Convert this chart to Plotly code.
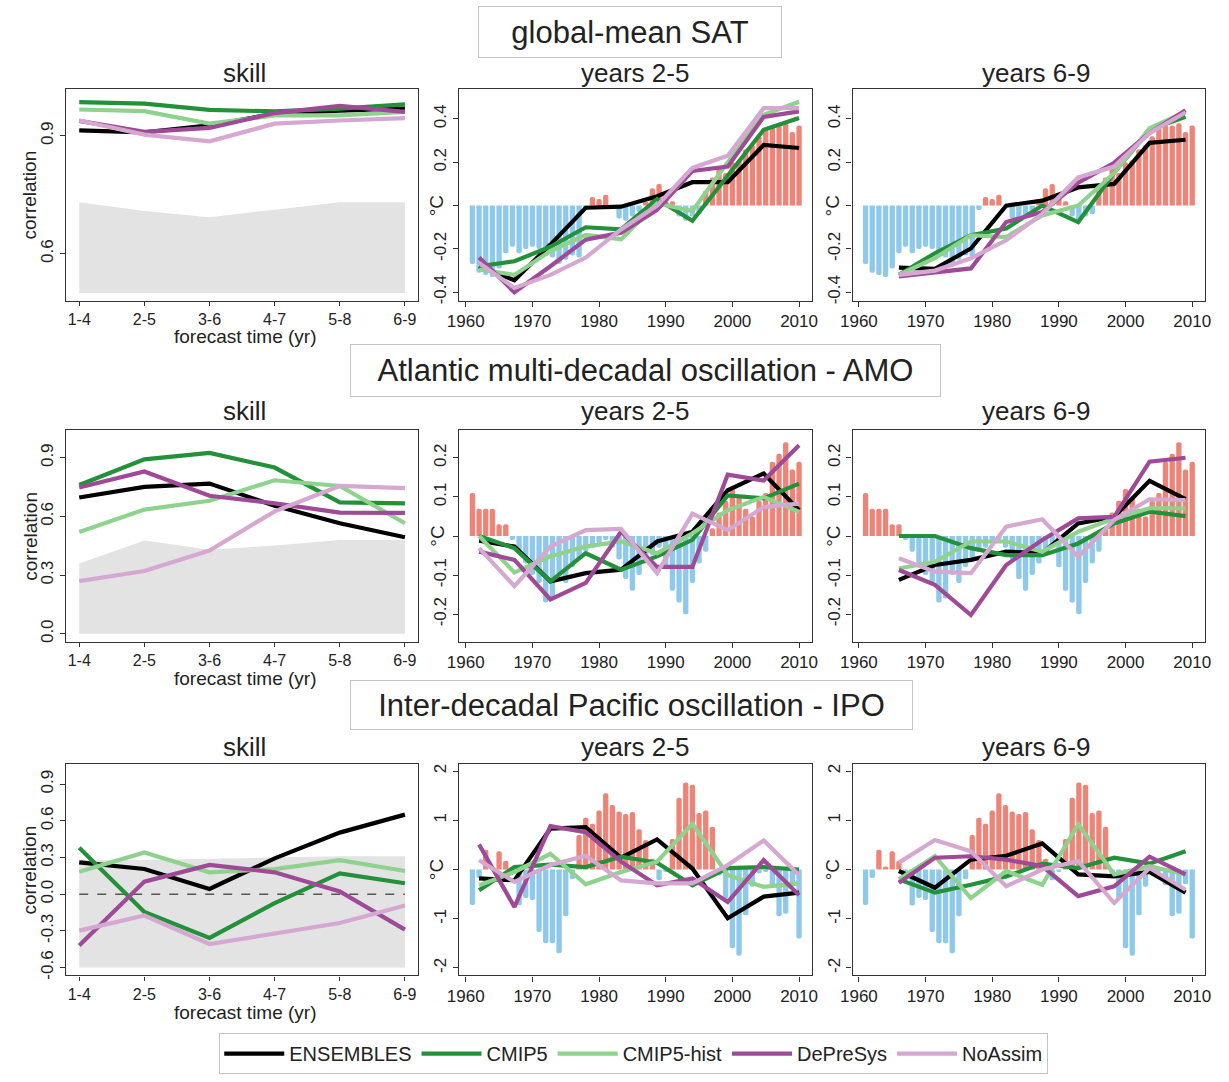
import plotly.graph_objects as go

W, H = 1229, 1082
FONT = "Liberation Sans, Arial, Helvetica, sans-serif"

MODELS = ["ENSEMBLES", "CMIP5", "CMIP5-hist", "DePreSys", "NoAssim"]
COLORS = {"ENSEMBLES": "#000000", "CMIP5": "#23903A", "CMIP5-hist": "#8ED28E",
          "DePreSys": "#9E4A96", "NoAssim": "#D5A8D1"}
LEADS = ["1-4", "2-5", "3-6", "4-7", "5-8", "6-9"]
YEARS = list(range(1961, 2011))
X25 = [1962, 1967.3, 1972.7, 1978, 1983.3, 1988.7, 1994, 1999.3, 2004.7, 2010]
X69 = [1966, 1971.4, 1976.8, 1982.1, 1987.5, 1992.9, 1998.3, 2003.6, 2009]

# ---------------- global-mean SAT ----------------
SAT_BAND = [0.731, 0.709, 0.693, 0.712, 0.731, 0.731]
SAT_BAND_LOW = [0.50, 0.50, 0.50, 0.50, 0.50, 0.50]
SAT_SKILL = {
    "ENSEMBLES": [0.914, 0.909, 0.927, 0.956, 0.964, 0.969],
    "CMIP5": [0.986, 0.982, 0.966, 0.962, 0.969, 0.980],
    "CMIP5-hist": [0.967, 0.963, 0.931, 0.952, 0.952, 0.961],
    "DePreSys": [0.938, 0.910, 0.920, 0.958, 0.976, 0.961],
    "NoAssim": [0.939, 0.903, 0.886, 0.931, 0.939, 0.945],
}
SAT_OBS = [-0.27, -0.31, -0.32, -0.33, -0.29, -0.22, -0.19, -0.22, -0.20, -0.19,
           -0.20, -0.23, -0.24, -0.27, -0.25, -0.23, -0.24, -0.02, 0.04, 0.03,
           0.05, -0.01, -0.06, -0.07, -0.05, -0.03, 0.02, 0.08, 0.10, 0.04,
           0.02, -0.05, -0.07, -0.05, -0.04, 0.07, 0.13, 0.18, 0.15, 0.20,
           0.21, 0.26, 0.28, 0.32, 0.36, 0.37, 0.37, 0.38, 0.34, 0.37]
SAT_Y25 = {
    "ENSEMBLES": [-0.28, -0.345, -0.18, -0.01, -0.005, 0.043, 0.108, 0.108, 0.28, 0.266],
    "CMIP5": [-0.28, -0.257, -0.19, -0.10, -0.11, 0.03, -0.07, 0.14, 0.35, 0.405],
    "CMIP5-hist": [-0.295, -0.32, -0.21, -0.135, -0.155, 0.01, -0.025, 0.20, 0.42, 0.48],
    "DePreSys": [-0.24, -0.40, -0.28, -0.157, -0.125, -0.02, 0.16, 0.18, 0.41, 0.435],
    "NoAssim": [-0.265, -0.38, -0.32, -0.24, -0.11, 0.0, 0.174, 0.23, 0.45, 0.45],
}
SAT_Y69 = {
    "ENSEMBLES": [-0.286, -0.292, -0.198, 0.0, 0.023, 0.084, 0.10, 0.29, 0.304],
    "CMIP5": [-0.32, -0.22, -0.137, -0.106, 0.0, -0.076, 0.152, 0.35, 0.41],
    "CMIP5-hist": [-0.32, -0.243, -0.137, -0.145, -0.046, 0.0, 0.15, 0.357, 0.433],
    "DePreSys": [-0.327, -0.31, -0.29, -0.076, -0.03, 0.106, 0.198, 0.335, 0.44],
    "NoAssim": [-0.32, -0.30, -0.243, -0.16, -0.038, 0.13, 0.18, 0.335, 0.43],
}

# ---------------- AMO ----------------
AMO_BAND = [0.359, 0.477, 0.43, 0.452, 0.48, 0.48]
AMO_BAND_LOW = [0.0, 0.0, 0.0, 0.0, 0.0, 0.0]
AMO_SKILL = {
    "ENSEMBLES": [0.697, 0.751, 0.768, 0.655, 0.565, 0.494],
    "CMIP5": [0.761, 0.892, 0.925, 0.85, 0.672, 0.667],
    "CMIP5-hist": [0.52, 0.635, 0.68, 0.785, 0.756, 0.565],
    "DePreSys": [0.748, 0.83, 0.706, 0.667, 0.62, 0.618],
    "NoAssim": [0.269, 0.321, 0.426, 0.626, 0.756, 0.745],
}
AMO_OBS = [0.11, 0.07, 0.07, 0.07, 0.03, 0.03, -0.01, -0.04, -0.07, -0.10,
           -0.12, -0.17, -0.16, -0.10, -0.12, -0.08, -0.06, -0.04, -0.03, -0.02,
           -0.01, -0.03, -0.06, -0.11, -0.14, -0.10, -0.07, -0.05, -0.03, -0.08,
           -0.14, -0.17, -0.20, -0.12, -0.07, -0.04, 0.02, 0.06, 0.09, 0.12,
           0.10, 0.07, 0.05, 0.09, 0.11, 0.19, 0.21, 0.24, 0.17, 0.19]
AMO_Y25 = {
    "ENSEMBLES": [-0.012, -0.027, -0.116, -0.095, -0.086, -0.014, 0.011, 0.117, 0.16, 0.066],
    "CMIP5": [0.0, -0.031, -0.116, -0.044, -0.086, -0.052, -0.01, 0.104, 0.096, 0.134],
    "CMIP5-hist": [0.0, -0.093, -0.052, -0.027, -0.014, -0.044, 0.007, 0.066, 0.10, 0.062],
    "DePreSys": [-0.04, -0.061, -0.162, -0.12, 0.011, -0.079, -0.079, 0.157, 0.142, 0.232],
    "NoAssim": [-0.031, -0.128, -0.027, 0.015, 0.018, -0.095, 0.057, 0.015, 0.074, 0.083],
}
AMO_Y69 = {
    "ENSEMBLES": [-0.112, -0.074, -0.061, -0.04, -0.044, 0.032, 0.049, 0.141, 0.094],
    "CMIP5": [0.0, 0.0, -0.031, -0.049, -0.049, -0.019, 0.032, 0.062, 0.051],
    "CMIP5-hist": [-0.083, -0.066, -0.014, -0.014, -0.04, 0.011, 0.045, 0.071, 0.071],
    "DePreSys": [-0.087, -0.125, -0.202, -0.074, -0.01, 0.045, 0.049, 0.19, 0.20],
    "NoAssim": [-0.057, -0.091, -0.095, 0.024, 0.043, -0.053, 0.041, 0.094, 0.092],
}

# ---------------- IPO ----------------
IPO_BAND = [0.28, 0.28, 0.29, 0.30, 0.31, 0.31]
IPO_BAND_LOW = [-0.6, -0.6, -0.6, -0.6, -0.6, -0.6]
IPO_SKILL = {
    "ENSEMBLES": [0.26, 0.206, 0.043, 0.293, 0.504, 0.651],
    "CMIP5": [0.38, -0.146, -0.358, -0.073, 0.171, 0.09],
    "CMIP5-hist": [0.184, 0.342, 0.179, 0.206, 0.279, 0.19],
    "DePreSys": [-0.42, 0.103, 0.239, 0.179, 0.022, -0.29],
    "NoAssim": [-0.298, -0.174, -0.407, -0.325, -0.236, -0.092],
}
IPO_OBS = [-0.72, -0.17, 0.40, 0.06, 0.37, 0.18, -0.05, -0.73, -0.58, -0.62,
           -1.27, -1.50, -1.50, -1.70, -0.95, -0.20, 0.70, 1.05, 0.93, 1.20,
           1.55, 1.31, 1.18, 1.13, 1.17, 0.82, 0.60, 0.22, -0.22, -0.05,
           0.62, 1.46, 1.77, 1.72, 1.15, 1.20, 0.87, -0.12, -0.60, -1.60,
           -1.75, -0.93, -0.35, -0.08, -0.05, -0.32, -0.95, -0.90, -0.30, -1.40]
IPO_Y25 = {
    "ENSEMBLES": [-0.18, -0.22, 0.83, 0.86, 0.24, 0.61, 0.02, -0.99, -0.55, -0.47],
    "CMIP5": [-0.42, 0.05, 0.10, 0.05, 0.26, 0.14, -0.32, 0.03, 0.05, 0.0],
    "CMIP5-hist": [-0.32, -0.05, 0.32, -0.30, -0.05, 0.16, 0.93, -0.11, -0.35, -0.28],
    "DePreSys": [0.51, -0.76, 0.88, 0.76, 0.16, -0.32, -0.18, -0.66, 0.19, -0.52],
    "NoAssim": [0.19, -0.25, 0.09, 0.28, -0.22, -0.28, -0.28, 0.09, 0.59, -0.11],
}
IPO_Y69 = {
    "ENSEMBLES": [-0.03, -0.37, 0.20, 0.28, 0.53, -0.10, -0.14, -0.05, -0.47],
    "CMIP5": [-0.20, -0.47, -0.31, -0.14, 0.12, 0.03, 0.24, 0.12, 0.37],
    "CMIP5-hist": [-0.20, 0.27, -0.58, -0.03, -0.31, 0.92, -0.10, 0.07, -0.10],
    "DePreSys": [-0.27, 0.24, 0.27, 0.20, 0.07, -0.54, -0.34, 0.26, -0.10],
    "NoAssim": [0.14, 0.60, 0.37, -0.34, 0.0, 0.17, -0.68, 0.03, -0.41],
}

SECTION_TITLES = ["global-mean SAT", "Atlantic multi-decadal oscillation - AMO",
                  "Inter-decadal Pacific oscillation - IPO"]
PANEL_TITLES = ["skill", "years 2-5", "years 6-9"]

SKILL_TICKS = [[0.6, 0.9], [0.0, 0.3, 0.6, 0.9], [-0.6, -0.3, 0.0, 0.3, 0.6, 0.9]]
SKILL_RANGES = [[0.48, 1.02], [-0.04, 1.04], [-0.664, 1.064]]
TS_TICKS = [[-0.4, -0.2, 0, 0.2, 0.4], [-0.2, -0.1, 0, 0.1, 0.2], [-2, -1, 0, 1, 2]]
TS_RANGES = [[-0.44, 0.54], [-0.27, 0.27], [-2.15, 2.14]]
YEAR_TICKS = [1960, 1970, 1980, 1990, 2000, 2010]

# ---------------- layout geometry (pixels) ----------------
COLS = [(55, 412), (454, 812), (853, 1211)]
ROWS = [(89, 302), (432, 644), (767, 979)]
SECTION_BOX = [(627, 32, 302, 50), (643, 372, 589, 51), (629, 708, 561, 48)]
PANEL_TITLE_Y = [73, 413, 750]
PANEL_TITLE_X = [236, 632, 1039]
XTITLE_Y = [338, 681, 1016]
DEGC_X = [None, 431, 833]

RED, BLUE, BAND = "#EE8478", "#8EC8EA", "#E3E3E3"
AX_COL = "#333333"
TXT = "#222222"


def fx(p):
    return p / W


def fy(p):
    return 1 - p / H


def note(text, x, y, size, angle=0, xref="paper", yref="paper", **kw):
    d = dict(text=text, xref=xref, yref=yref, x=x, y=y, xanchor="center",
             yanchor="middle", showarrow=False, textangle=angle,
             font=dict(size=size, color=TXT, family=FONT))
    d.update(kw)
    return d


fig = go.Figure()
layout = dict(width=W, height=H, margin=dict(l=0, r=0, t=0, b=0),
              paper_bgcolor="white", plot_bgcolor="white",
              font=dict(family=FONT, color=TXT), showlegend=True)
annotations = []

skill_sets = [(SAT_SKILL, SAT_BAND, SAT_BAND_LOW), (AMO_SKILL, AMO_BAND, AMO_BAND_LOW),
              (IPO_SKILL, IPO_BAND, IPO_BAND_LOW)]
ts_sets = [(SAT_OBS, SAT_Y25, SAT_Y69), (AMO_OBS, AMO_Y25, AMO_Y69),
           (IPO_OBS, IPO_Y25, IPO_Y69)]

for r in range(3):
    for c in range(3):
        idx = r * 3 + c + 1
        xa = "xaxis" if idx == 1 else f"xaxis{idx}"
        ya = "yaxis" if idx == 1 else f"yaxis{idx}"
        xr = "x" if idx == 1 else f"x{idx}"
        yr = "y" if idx == 1 else f"y{idx}"
        common = dict(showline=True, mirror=True, linecolor=AX_COL, linewidth=1.3,
                      ticks="outside", ticklen=5, tickwidth=1.2, tickcolor=AX_COL,
                      showgrid=False, zeroline=False,
                      tickfont=dict(size=17, color=TXT, family=FONT))
        xdom = [fx(COLS[c][0]), fx(COLS[c][1])]
        ydom = [fy(ROWS[r][1]), fy(ROWS[r][0])]
        if c == 0:
            skill, band, low = skill_sets[r]
            xcommon = dict(common, ticklen=4, tickfont=dict(size=16, color=TXT, family=FONT))
            layout[xa] = dict(domain=xdom, anchor=yr, type="category",
                              range=[-0.2, 5.2], tickvals=LEADS, ticktext=LEADS, **xcommon)
            layout[ya] = dict(domain=ydom, anchor=xr, range=SKILL_RANGES[r],
                              tickvals=SKILL_TICKS[r],
                              ticktext=[f"{v:.1f}" for v in SKILL_TICKS[r]],
                              tickangle=-90, **common)
            fig.add_trace(go.Scatter(x=LEADS + LEADS[::-1], y=band + low[::-1],
                                     fill="toself", fillcolor=BAND, mode="none",
                                     hoverinfo="skip", showlegend=False,
                                     xaxis=xr, yaxis=yr))
            if r == 2:
                fig.add_trace(go.Scatter(x=[LEADS[0], LEADS[-1]], y=[0, 0], mode="lines",
                                         line=dict(color="#555555", width=1.6, dash="dash"),
                                         showlegend=False, hoverinfo="skip",
                                         xaxis=xr, yaxis=yr))
            for m in MODELS:
                fig.add_trace(go.Scatter(x=LEADS, y=skill[m], mode="lines", name=m,
                                         line=dict(color=COLORS[m], width=4.2),
                                         showlegend=(idx == 1), legendgroup=m,
                                         xaxis=xr, yaxis=yr))
            annotations.append(note("correlation", fx(18),
                                    fy((ROWS[r][0] + ROWS[r][1]) / 2), 19, angle=-90))
            annotations.append(note("forecast time (yr)",
                                    fx((COLS[0][0] + COLS[0][1]) / 2 + 3),
                                    fy(XTITLE_Y[r]), 19))
        else:
            obs, y25, y69 = ts_sets[r]
            xs = X25 if c == 1 else X69
            ys = y25 if c == 1 else y69
            layout[xa] = dict(domain=xdom, anchor=yr, range=[1959.04, 2011.96],
                              tickvals=YEAR_TICKS, **common)
            layout[ya] = dict(domain=ydom, anchor=xr, range=TS_RANGES[r],
                              tickvals=TS_TICKS[r],
                              ticktext=["" if v == 0 else f"{v:g}" for v in TS_TICKS[r]],
                              tickangle=-90, **common)
            fig.add_trace(go.Bar(x=YEARS, y=obs, width=0.8,
                                 marker=dict(color=[RED if v > 0 else BLUE for v in obs],
                                             line=dict(width=0), cornerradius=3),
                                 showlegend=False, hoverinfo="skip",
                                 xaxis=xr, yaxis=yr))
            for m in MODELS:
                fig.add_trace(go.Scatter(x=xs, y=ys[m], mode="lines", name=m,
                                         line=dict(color=COLORS[m], width=4.2),
                                         showlegend=False, legendgroup=m,
                                         xaxis=xr, yaxis=yr))
            annotations.append(note("°C", fx(DEGC_X[c]), 0, 19, angle=-90, yref=yr))
        annotations.append(note(PANEL_TITLES[c], fx(PANEL_TITLE_X[c]),
                                fy(PANEL_TITLE_Y[r]), 26))

for r in range(3):
    cx, cy, bw, bh = SECTION_BOX[r]
    annotations.append(note(SECTION_TITLES[r], fx(cx), fy(cy), 31, width=bw, height=bh,
                            borderpad=0, bordercolor="#C4C4C4", borderwidth=1,
                            bgcolor="white"))

layout["annotations"] = annotations
layout["barmode"] = "overlay"
layout["legend"] = dict(orientation="h", x=fx(631), xanchor="center", y=fy(1037),
                        yanchor="top", bordercolor="#C4C4C4", borderwidth=1,
                        bgcolor="white", font=dict(size=20, color=TXT),
                        itemwidth=60, tracegroupgap=0)
fig.update_layout(**layout)
fig.write_html("out.html")
